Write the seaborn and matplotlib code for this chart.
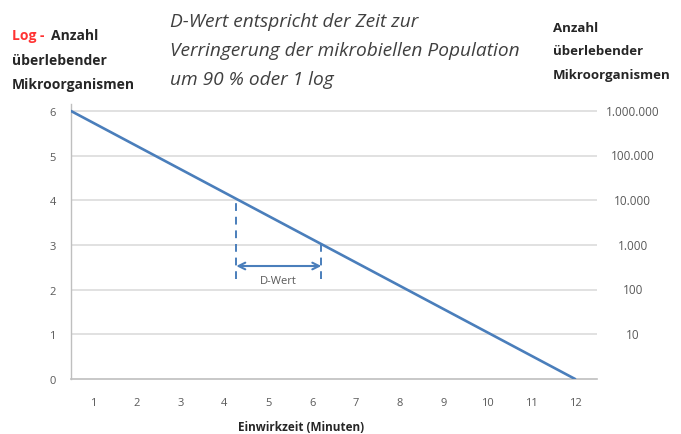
import matplotlib
matplotlib.use("Agg")
import matplotlib.pyplot as plt
import matplotlib.transforms as mtransforms
import seaborn as sns
import pandas as pd

# Survivor curve (log10 of surviving organisms over exposure time)
time_min = [0.5, 12.0]
log_count = [6.0, 0.0]

x_ticks = list(range(1, 13))
y_ticks = [0, 1, 2, 3, 4, 5, 6]
right_values = [1, 2, 3, 4, 5, 6]
right_labels = ["10", "100", "1.000", "10.000", "100.000", "1.000.000"]

# D-value construction: one log reduction from 4 to 3
d_start, d_end = 4.27, 6.21
d_top = [4.03, 3.02]
d_bottom = 2.24
d_arrow_y = 2.53

sns.set_theme(style="white")
plt.rcParams["font.family"] = ["Open Sans", "DejaVu Sans"]

BLUE = "#4a7ebb"
GRID = "#d9d9d9"
AXIS = "#bfbfbf"
TICK = "#595959"
DARK = "#262626"

fig = plt.figure(figsize=(6.81, 4.35), dpi=100)
ax = fig.add_axes([0.1043, 0.1264, 0.7724, 0.6315])

df = pd.DataFrame({"t": time_min, "logN": log_count})
sns.lineplot(data=df, x="t", y="logN", ax=ax, color=BLUE, lw=1.9, zorder=3)

ax.set_xlim(0.5, 12.5)
ax.set_ylim(0, 6.15)
ax.set_xticks(x_ticks)
ax.set_yticks(y_ticks)
ax.set_xticklabels([str(v) for v in x_ticks])
ax.set_yticklabels([str(v) for v in y_ticks])
ax.tick_params(axis="x", length=0, pad=13, labelsize=8, labelcolor=TICK)
ax.tick_params(axis="y", length=0, pad=11, labelsize=8, labelcolor=TICK)
for y in y_ticks[1:]:
    ax.axhline(y, color=GRID, lw=1.1, zorder=1)
for side in ["top", "right"]:
    ax.spines[side].set_visible(False)
ax.spines["left"].set_color(AXIS)
ax.spines["bottom"].set_color(AXIS)
ax.spines["left"].set_linewidth(1.0)
ax.spines["bottom"].set_linewidth(1.2)
ax.set_xlabel("")
ax.set_ylabel("")

# dashed markers for the D-value interval
for x, yt in zip([d_start, d_end], d_top):
    ax.plot([x, x], [d_bottom, yt], color=BLUE, lw=1.4, ls=(0, (4, 3)), zorder=2)
ax.annotate("", xy=(d_end, d_arrow_y), xytext=(d_start, d_arrow_y),
            arrowprops=dict(arrowstyle="<->", color=BLUE, lw=1.5,
                            mutation_scale=12, shrinkA=0, shrinkB=0))
ax.text((d_start + d_end) / 2, 2.2, "D-Wert", ha="center", va="center",
        fontsize=8, color=TICK)

# absolute counts alongside the log axis
trans = mtransforms.blended_transform_factory(ax.transAxes, ax.transData)
for v, lab in zip(right_values, right_labels):
    ax.text(1.068, v, lab, transform=trans, ha="center", va="center",
            fontsize=8.5, color=TICK)

# headers
fig.text(12 / 681, 1 - 36 / 435, "Log - ", color="#ff3333", fontsize=10,
         fontweight="bold", ha="left", va="center")
fig.text(51 / 681, 1 - 36 / 435, "Anzahl", color=DARK, fontsize=10,
         fontweight="bold", ha="left", va="center")
fig.text(12 / 681, 1 - 61 / 435, "überlebender", color=DARK, fontsize=10,
         fontweight="bold", ha="left", va="center")
fig.text(12 / 681, 1 - 85 / 435, "Mikroorganismen", color=DARK, fontsize=10,
         fontweight="bold", ha="left", va="center")

for i, line in enumerate(["Anzahl", "überlebender", "Mikroorganismen"]):
    fig.text(553 / 681, 1 - (28 + 24 * i) / 435, line, color=DARK,
             fontsize=9.5, fontweight="bold", ha="left", va="center")

for i, line in enumerate(["D-Wert entspricht der Zeit zur",
                          "Verringerung der mikrobiellen Population",
                          "um 90 % oder 1 log"]):
    fig.text(170 / 681, 1 - (22 + 29 * i) / 435, line, color="#404040",
             fontsize=13.8, style="italic", ha="left", va="center")

fig.text(301 / 681, 1 - 428 / 435, "Einwirkzeit (Minuten)", color=DARK,
         fontsize=8.5, fontweight="bold", ha="center", va="center")

fig.savefig("out.png", dpi=100, facecolor="white")
